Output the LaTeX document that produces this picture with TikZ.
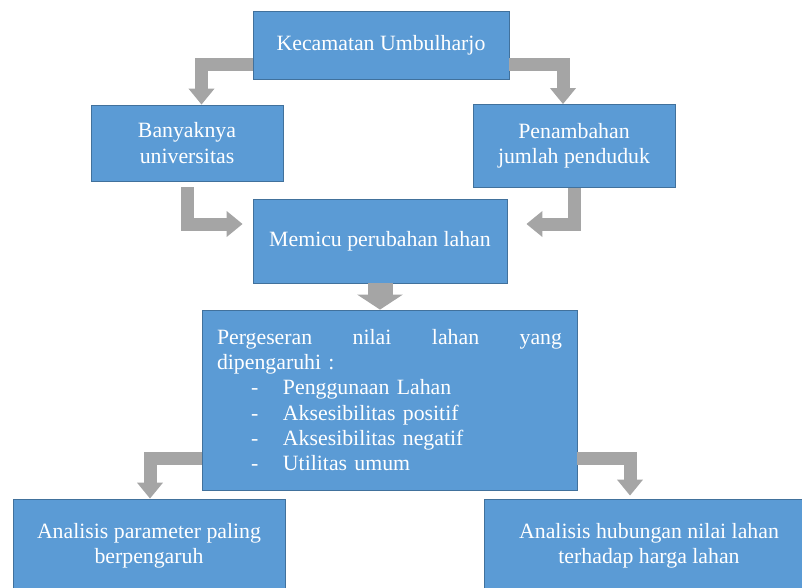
\documentclass[tikz,border=0pt]{standalone}
\usepackage{fontspec}
\setmainfont{Liberation Serif}
\usetikzlibrary{arrows.meta,calc}
\definecolor{boxfill}{RGB}{91,155,213}
\definecolor{boxline}{RGB}{65,113,156}
\definecolor{arrgray}{RGB}{165,165,165}
\begin{document}
\begin{tikzpicture}[x=1pt,y=-1pt,
  box/.style={draw=boxline, line width=0.8pt, fill=boxfill, text=white, inner sep=0pt,
    font=\fontsize{21.8}{25.3}\selectfont, align=center},
  barrow/.style={draw=arrgray, line width=13pt, line join=miter,
    -{Triangle[width=25pt,length=16pt]}}]
\useasboundingbox (0,0) rectangle (802,588);
\clip (0,0) rectangle (802,588);
\node[box, minimum width=256pt, minimum height=68pt] (top) at (381,45) {Kecamatan Umbulharjo};
\node[box, minimum width=192pt, minimum height=76pt] (left) at (187,143) {Banyaknya\\universitas};
\node[box, minimum width=202pt, minimum height=83pt] (right) at (574,146) {Penambahan\\jumlah penduduk};
\node[box, minimum width=254pt, minimum height=84pt] (mid) at (380,241) {Memicu perubahan lahan};
\node[box, minimum width=375pt, minimum height=180pt, text width=345pt, align=left] (big) at (389.5,400)
  {\makebox[345pt][s]{Pergeseran\hfill nilai\hfill lahan\hfill yang}\\
   dipengaruhi :\\
   \makebox[66pt][l]{\hspace*{34pt}-}Penggunaan Lahan\\
   \makebox[66pt][l]{\hspace*{34pt}-}Aksesibilitas positif\\
   \makebox[66pt][l]{\hspace*{34pt}-}Aksesibilitas negatif\\
   \makebox[66pt][l]{\hspace*{34pt}-}Utilitas umum};
\node[box, minimum width=272pt, minimum height=93pt] (bl) at (149,545.5) {Analisis parameter paling\\berpengaruh};
\node[box, minimum width=330pt, minimum height=93pt] (br) at (649,545.5) {Analisis hubungan nilai lahan\\terhadap harga lahan};
% connectors
\draw[barrow] ([yshift=-19.5pt]top.west) -| ([xshift=14.5pt]left.north);
\draw[barrow] ([yshift=-19.5pt]top.east) -| ([xshift=-11pt]right.north);
\draw[barrow] ([yshift=-6pt]left.south) |- ([xshift=-10pt,yshift=17pt]mid.west);
\draw[barrow] (right.south) |- ([xshift=19pt,yshift=17pt]mid.east);
\draw[barrow, line width=25pt, -{Triangle[width=45pt,length=15pt]}] (mid.south) -- (mid.south |- big.north);
\draw[barrow] ([yshift=-58.5pt]big.west) -| ([xshift=1pt]bl.north);
\draw[barrow] ([yshift=-58pt]big.east) -| ([xshift=-19pt,yshift=3pt]br.north);
\end{tikzpicture}
\end{document}
